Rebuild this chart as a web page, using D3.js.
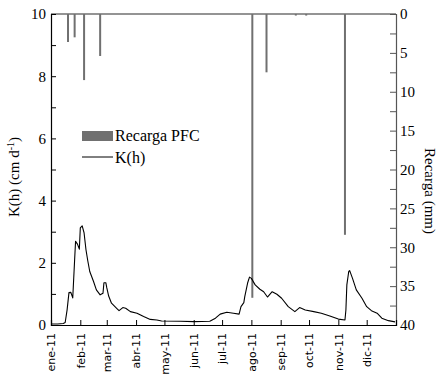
<!DOCTYPE html>
<html>
<head>
<meta charset="utf-8">
<script src="https://cdn.jsdelivr.net/npm/d3@7"></script>
<style>
  html, body { margin: 0; padding: 0; background: #fff; }
  svg { display: block; }
</style>
</head>
<body>
<svg id="chart" width="443" height="375"></svg>
<script>
// ---- Data ----
const kDates = ["2011-01-01","2011-01-08","2011-01-14","2011-01-16","2011-01-18","2011-01-20","2011-01-22","2011-01-24","2011-01-26","2011-01-27","2011-01-29","2011-01-31","2011-02-01","2011-02-03","2011-02-05","2011-02-07","2011-02-09","2011-02-11","2011-02-15","2011-02-18","2011-02-22","2011-02-25","2011-02-26","2011-02-28","2011-03-01","2011-03-03","2011-03-06","2011-03-12","2011-03-14","2011-03-18","2011-03-21","2011-03-26","2011-04-02","2011-04-09","2011-04-16","2011-04-23","2011-04-28","2011-05-18","2011-06-01","2011-06-18","2011-06-24","2011-06-29","2011-07-06","2011-07-13","2011-07-19","2011-07-21","2011-07-24","2011-07-25","2011-07-28","2011-07-30","2011-08-01","2011-08-05","2011-08-10","2011-08-14","2011-08-18","2011-08-23","2011-08-28","2011-09-02","2011-09-09","2011-09-16","2011-09-21","2011-09-27","2011-10-06","2011-10-14","2011-10-23","2011-11-01","2011-11-08","2011-11-09","2011-11-10","2011-11-12","2011-11-13","2011-11-16","2011-11-20","2011-11-26","2011-12-01","2011-12-06","2011-12-12","2011-12-17","2011-12-24","2011-12-31"];
const kValues = [0.03,0.03,0.05,0.08,0.48,1.04,1.05,0.87,2.1,2.69,2.6,2.44,3.12,3.19,2.96,2.42,2.05,1.72,1.40,1.13,0.97,1.02,1.36,1.36,1.2,0.93,0.70,0.52,0.46,0.56,0.54,0.43,0.38,0.27,0.18,0.16,0.13,0.12,0.11,0.12,0.22,0.35,0.41,0.38,0.35,0.59,0.72,0.91,1.35,1.54,1.5,1.29,1.15,1.07,0.90,1.07,0.99,0.86,0.59,0.43,0.56,0.48,0.43,0.38,0.29,0.19,0.16,0.48,1.29,1.72,1.75,1.5,1.13,0.86,0.59,0.46,0.38,0.22,0.14,0.1];

const rechargeDates = ["2011-01-19","2011-01-26","2011-02-05","2011-02-22","2011-08-02","2011-08-17","2011-09-17","2011-09-28","2011-11-08"];
const rechargeValues = [3.6, 3.0, 8.5, 5.4, 36.5, 7.5, 0.2, 0.2, 28.4];

const monthLabels = ["ene-11","feb-11","mar-11","abr-11","may-11","jun-11","jul-11","ago-11","sep-11","oct-11","nov-11","dic-11"];
const leftTicks = [0,1,2,3,4,5,6,7,8,9,10];
const rightTicks = [0,2.5,5,7.5,10,12.5,15,17.5,20,22.5,25,27.5,30,32.5,35,37.5,40];

// ---- Layout ----
const L = 51, R = 396, T = 14, B = 325;
const parse = d3.timeParse("%Y-%m-%d");
const svg = d3.select("#chart");
svg.append("rect").attr("width",443).attr("height",375).attr("fill","#fff");

const x = d3.scaleTime().domain([new Date(2011,0,1), new Date(2012,0,1)]).range([L, R]);
const yL = d3.scaleLinear().domain([0,10]).range([B, T]);
const yR = d3.scaleLinear().domain([0,40]).range([T, B]);

const serif = "'Liberation Serif', 'Times New Roman', serif";
const sans = "'DejaVu Sans', sans-serif";

// recharge bars (hanging from top)
const bars = rechargeDates.map((d,i)=>({date: parse(d), v: rechargeValues[i]}));
svg.append("g").selectAll("rect").data(bars).join("rect")
  .attr("x", d => x(d.date) - 1)
  .attr("width", 2)
  .attr("y", yR(0))
  .attr("height", d => yR(d.v) - yR(0))
  .attr("fill", "#707070");

// K(h) line
const kData = kDates.map((d,i)=>({date: parse(d), v: kValues[i]}));
svg.append("path").datum(kData)
  .attr("fill","none").attr("stroke","#000").attr("stroke-width",1.1)
  .attr("stroke-linejoin","round")
  .attr("d", d3.line().x(d=>x(d.date)).y(d=>yL(d.v)));

// top border (gray)
svg.append("line").attr("x1",L).attr("x2",R).attr("y1",T).attr("y2",T)
  .attr("stroke","#707070").attr("stroke-width",1.6);

// left axis
const gL = svg.append("g").attr("transform",`translate(${L},0)`)
  .call(d3.axisLeft(yL).tickValues(leftTicks).tickSize(-5).tickPadding(5)
    .tickFormat(d => d % 2 === 0 ? d : ""));
gL.select(".domain").attr("stroke","#000").attr("stroke-width",1.2);
gL.selectAll(".tick line").attr("stroke","#000");
gL.selectAll("text").attr("font-family",serif).attr("font-size",15).attr("fill","#000");

// right axis
const gR = svg.append("g").attr("transform",`translate(${R},0)`)
  .call(d3.axisRight(yR).tickValues(rightTicks).tickSize(-6).tickPadding(4)
    .tickFormat(d => d % 5 === 0 ? d : ""));
gR.select(".domain").attr("stroke","#555").attr("stroke-width",1.2);
gR.selectAll(".tick line").attr("stroke","#555");
gR.selectAll("text").attr("font-family",serif).attr("font-size",15).attr("fill","#000");

// bottom axis
const monthTicks = d3.timeMonth.range(new Date(2011,0,1), new Date(2012,0,1));
const gB = svg.append("g").attr("transform",`translate(0,${B})`)
  .call(d3.axisBottom(x).tickValues(monthTicks).tickSize(-5).tickPadding(0)
    .tickFormat((d,i) => monthLabels[i]));
gB.select(".domain").attr("stroke","#000").attr("stroke-width",1.2);
gB.selectAll(".tick line").attr("stroke","#000");
gB.selectAll("text")
  .attr("font-family",sans).attr("font-size",11).attr("fill","#000")
  .attr("transform","rotate(-90)")
  .attr("text-anchor","end")
  .attr("x",-8).attr("y",0).attr("dy","0.35em");

// axis titles
const tl = svg.append("text")
  .attr("transform","translate(19,177) rotate(-90)")
  .attr("text-anchor","middle")
  .attr("font-family",serif).attr("font-size",15).attr("fill","#000");
tl.append("tspan").text("K(h) (cm d");
tl.append("tspan").attr("dy",-5).attr("font-size",10).text("-1");
tl.append("tspan").attr("dy",5).text(")");

svg.append("text")
  .attr("transform","translate(425,191) rotate(90)")
  .attr("text-anchor","middle")
  .attr("font-family",serif).attr("font-size",15).attr("fill","#000")
  .text("Recarga (mm)");

// legend
const lg = svg.append("g");
lg.append("rect").attr("x",82).attr("y",131).attr("width",31).attr("height",10).attr("fill","#707070");
lg.append("text").attr("x",115).attr("y",141).attr("font-family",serif).attr("font-size",16).text("Recarga PFC");
lg.append("line").attr("x1",82).attr("x2",113).attr("y1",157).attr("y2",157).attr("stroke","#000").attr("stroke-width",1);
lg.append("text").attr("x",115).attr("y",163).attr("font-family",serif).attr("font-size",16).text("K(h)");
</script>
</body>
</html>
